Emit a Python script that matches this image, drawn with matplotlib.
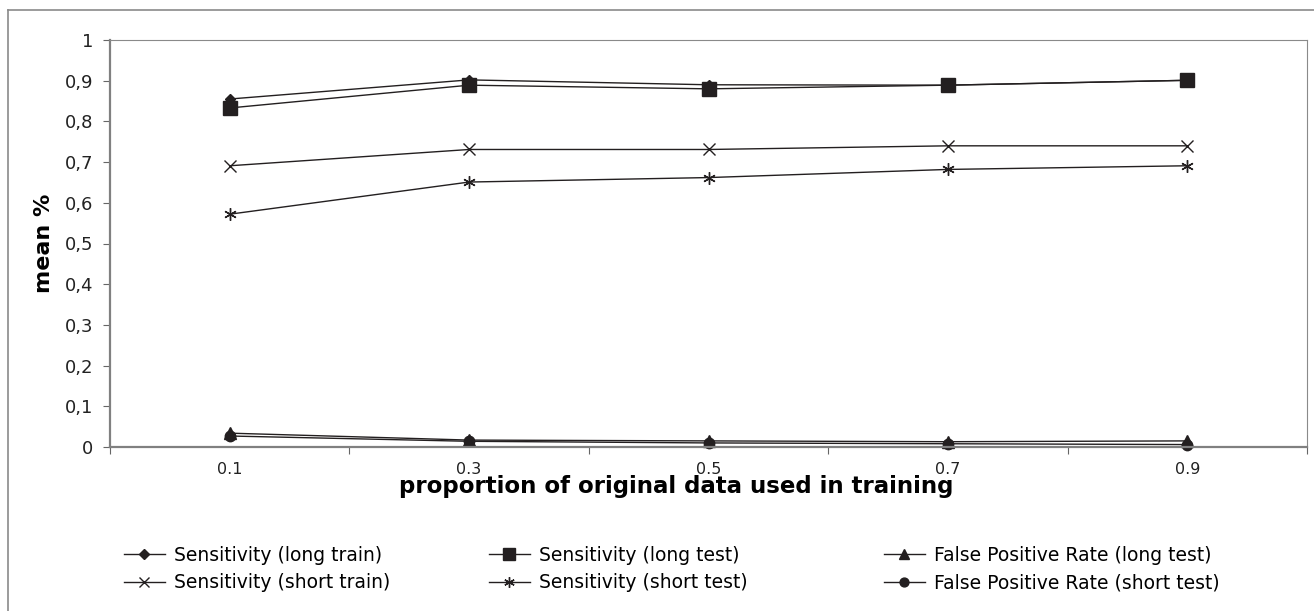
import matplotlib
matplotlib.use("Agg")
import matplotlib.pyplot as plt
from matplotlib.lines import Line2D
import numpy as np

# Proportion of the original data used for training (categories)
proportions = ["0.1", "0.3", "0.5", "0.7", "0.9"]

# Mean rates per training proportion
sens_long_train = [0.855, 0.902, 0.890, 0.889, 0.901]
sens_long_test = [0.833, 0.889, 0.880, 0.889, 0.901]
fpr_long_test = [0.034, 0.017, 0.015, 0.013, 0.015]
sens_short_train = [0.691, 0.731, 0.731, 0.740, 0.740]
sens_short_test = [0.572, 0.651, 0.662, 0.682, 0.691]
fpr_short_test = [0.027, 0.014, 0.010, 0.008, 0.006]

ytick_values = [0.0, 0.1, 0.2, 0.3, 0.4, 0.5, 0.6, 0.7, 0.8, 0.9, 1.0]
ytick_labels = ["0", "0,1", "0,2", "0,3", "0,4", "0,5", "0,6", "0,7", "0,8", "0,9", "1"]

plt.rcParams["font.family"] = ["DejaVu Sans"]

W, H = 1314, 611
fig = plt.figure(figsize=(W / 100, H / 100), dpi=100)
fig.patch.set_facecolor("white")

# Outer chart frame (top and left edges)
frame_col = "#8a8a8a"
fig.add_artist(Line2D([8 / W, 1.0], [1 - 10 / H, 1 - 10 / H], transform=fig.transFigure,
                      color=frame_col, lw=1.2))
fig.add_artist(Line2D([8 / W, 8 / W], [1 - 10 / H, 0.0], transform=fig.transFigure,
                      color=frame_col, lw=1.2))

left, right, top, bottom = 110, 1307, 40, 447
ax = fig.add_axes([left / W, 1 - bottom / H, (right - left) / W, (bottom - top) / H])

x = np.arange(len(proportions))
ink = "#231f20"

series = [
    (sens_long_train, "Sensitivity (long train)", dict(marker="D", markersize=5.5)),
    (sens_short_train, "Sensitivity (short train)", dict(marker="x", markersize=8, markeredgewidth=1.0)),
    (sens_long_test, "Sensitivity (long test)", dict(marker="s", markersize=10.5)),
    (sens_short_test, "Sensitivity (short test)", dict(marker=(6, 2, 0), markersize=9, markeredgewidth=1.0)),
    (fpr_long_test, "False Positive Rate (long test)", dict(marker="^", markersize=8)),
    (fpr_short_test, "False Positive Rate (short test)", dict(marker="o", markersize=7.5)),
]

handles = []
for vals, label, mk in series:
    (ln,) = ax.plot(x, vals, color=ink, lw=1.0, markerfacecolor=ink, markeredgecolor=ink,
                    label=label, clip_on=False, **mk)
    handles.append(ln)

ax.set_xlim(-0.5, len(proportions) - 0.5)
ax.set_ylim(0, 1)

# Category ticks sit between categories; labels at the category centres
ax.set_xticks(np.arange(-0.5, len(proportions), 1.0))
ax.set_xticklabels([])
ax.set_xticks(x, minor=True)
ax.set_xticklabels(proportions, minor=True, fontsize=11.5, color="#222222")
ax.tick_params(axis="x", which="minor", length=0, pad=11)
ax.tick_params(axis="x", which="major", length=5, direction="out", color="#666666")

ax.set_yticks(ytick_values)
ax.set_yticklabels(ytick_labels, fontsize=13, color="#222222")
ax.tick_params(axis="y", length=5, direction="out", color="#666666", pad=7)

for side in ["left", "bottom"]:
    ax.spines[side].set_color("#808080")
    ax.spines[side].set_linewidth(1.6)
for side in ["right", "top"]:
    ax.spines[side].set_color("#8a8a8a")
    ax.spines[side].set_linewidth(0.8)

ax.set_ylabel("mean %", fontsize=16, fontweight="bold", labelpad=8)
ax.set_xlabel("proportion of original data used in training", fontsize=16.5,
              fontweight="bold")
ax.xaxis.set_label_coords(0.473, -0.068)

# Legend laid out in three columns of two entries
col_x = [120, 485, 880]
pairs = [(handles[0], handles[1]), (handles[2], handles[3]), (handles[4], handles[5])]
for cx, pair in zip(col_x, pairs):
    fig.legend(handles=list(pair), loc="center left",
               bbox_to_anchor=(cx / W, 1 - 569 / H), frameon=False, fontsize=13.5,
               handlelength=2.2, handletextpad=0.5, labelspacing=0.45,
               markerscale=0.85, borderaxespad=0, borderpad=0.2)

fig.savefig("out.png", dpi=100, facecolor="white")
